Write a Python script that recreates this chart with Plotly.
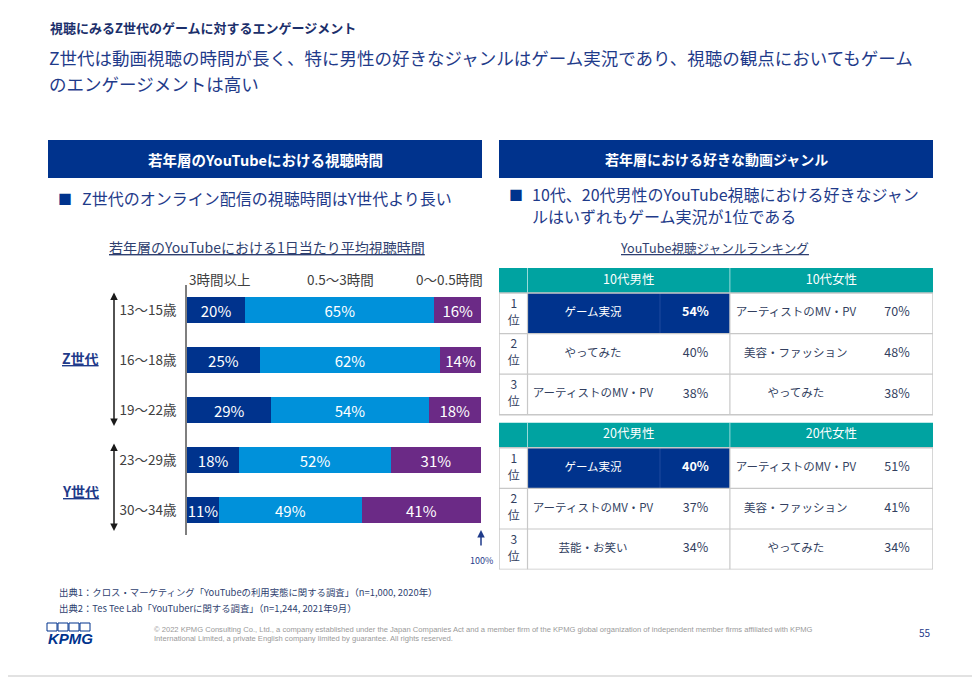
import plotly.graph_objects as go

# the page body adds an 8px margin, so the figure is sized to fill the rest of the window
OFF = 8
W, H = 980 - OFF, 678 - OFF
FONT = "Noto Sans CJK JP"

# ---------------- data ----------------
age_groups = ["13〜15歳", "16〜18歳", "19〜22歳", "23〜29歳", "30〜34歳"]
series_names = ["3時間以上", "0.5〜3時間", "0〜0.5時間"]
share_over_3h = [20, 25, 29, 18, 11]
share_05_to_3h = [65, 62, 54, 52, 49]
share_under_05h = [16, 14, 18, 31, 41]

ranks = ["1", "2", "3"]
teen_groups = ["10代男性", "10代女性"]
teen_male_genres = ["ゲーム実況", "やってみた", "アーティストのMV・PV"]
teen_male_pct = [54, 40, 38]
teen_female_genres = ["アーティストのMV・PV", "美容・ファッション", "やってみた"]
teen_female_pct = [70, 48, 38]

twenties_groups = ["20代男性", "20代女性"]
twenties_male_genres = ["ゲーム実況", "アーティストのMV・PV", "芸能・お笑い"]
twenties_male_pct = [40, 37, 34]
twenties_female_genres = ["アーティストのMV・PV", "美容・ファッション", "やってみた"]
twenties_female_pct = [51, 41, 34]

# ---------------- styles ----------------
NAVY = "#00338D"
BLUE = "#0091DA"
PURPLE = "#6B2A86"
TEAL = "#00A3A1"
TITLE_C = "#1F3B8A"
GRAY_TXT = "#404040"
TBL_TXT = "#333F5F"
LINE_GRAY = "#C8C8C8"


def px(x):
    return (x - OFF) / W


def py(y):
    return 1 - (y - OFF) / H


fig = go.Figure()

# ---------------- stacked bar chart ----------------
bar_colors = [NAVY, BLUE, PURPLE]
for name, vals, col in zip(series_names,
                           [share_over_3h, share_05_to_3h, share_under_05h],
                           bar_colors):
    fig.add_trace(go.Bar(
        y=age_groups, x=vals, name=name, orientation="h",
        marker=dict(color=col, line=dict(width=0)),
        text=[f"{v}%" for v in vals], textposition="inside",
        insidetextanchor="middle",
        textfont=dict(color="white", size=15, family=FONT),
        hoverinfo="skip", xaxis="x", yaxis="y",
    ))

# ---------------- ranking tables ----------------
HEADER_H = 25
ROW_H = 40.6
TABLE_GAP = 8
TABLE_STEP = HEADER_H + 3 * ROW_H + TABLE_GAP
TOTAL_H = 2 * (HEADER_H + 3 * ROW_H) + TABLE_GAP
RANK_LINE_OFF = 8.5

RANK_EDGE = 0.0657
GENRE_SPLIT = 0.371
GROUP_EDGE = 0.532
RANK_X = 0.034
M_GENRE_X = 0.2166
M_PCT_X = 0.4528
F_GENRE_X = 0.684
F_PCT_X = 0.917
M_HDR_X = (RANK_EDGE + GROUP_EDGE) / 2
F_HDR_X = (GROUP_EDGE + 1) / 2
SZ_HDR, SZ_RANK, SZ_GENRE, SZ_PCT = 12.5, 12, 11.5, 12.5

tables = [
    (teen_groups, teen_male_genres, teen_male_pct, teen_female_genres, teen_female_pct),
    (twenties_groups, twenties_male_genres, twenties_male_pct,
     twenties_female_genres, twenties_female_pct),
]

shapes = []
tx, ty, tt, tc, ts = [], [], [], [], []
for t, (groups, mg, mp, fg, fp) in enumerate(tables):
    top = t * TABLE_STEP
    body_top = top + HEADER_H
    body_bot = body_top + 3 * ROW_H
    # header
    shapes.append(dict(type="rect", xref="x2", yref="y2", x0=0, x1=1,
                       y0=top, y1=body_top, fillcolor=TEAL, line=dict(width=0),
                       layer="below"))
    for xe in (RANK_EDGE, GROUP_EDGE):
        shapes.append(dict(type="line", xref="x2", yref="y2", x0=xe, x1=xe,
                           y0=top, y1=body_top, layer="below",
                           line=dict(color="rgba(255,255,255,0.6)", width=1)))
    # highlight (male rank 1)
    shapes.append(dict(type="rect", xref="x2", yref="y2", x0=RANK_EDGE, x1=GROUP_EDGE,
                       y0=body_top, y1=body_top + ROW_H, fillcolor=NAVY,
                       line=dict(width=0), layer="below"))
    shapes.append(dict(type="line", xref="x2", yref="y2", x0=GENRE_SPLIT, x1=GENRE_SPLIT,
                       y0=body_top, y1=body_top + ROW_H, layer="below",
                       line=dict(color="#1E4A9E", width=1)))
    # body grid
    for k in (1, 2):
        yk = body_top + k * ROW_H
        shapes.append(dict(type="line", xref="x2", yref="y2", x0=0, x1=1,
                           y0=yk, y1=yk, layer="below",
                           line=dict(color=LINE_GRAY, width=1.2)))
    for xe in (RANK_EDGE, GROUP_EDGE):
        shapes.append(dict(type="line", xref="x2", yref="y2", x0=xe, x1=xe,
                           y0=body_top, y1=body_bot, layer="below",
                           line=dict(color=LINE_GRAY, width=1.2)))
    shapes.append(dict(type="rect", xref="x2", yref="y2", x0=0, x1=1,
                       y0=body_top, y1=body_bot, layer="below",
                       line=dict(color=LINE_GRAY, width=1.5)))
    # header text
    for gx, g in zip((M_HDR_X, F_HDR_X), groups):
        tx.append(gx); ty.append(top + HEADER_H / 2); tt.append(g)
        tc.append("white"); ts.append(SZ_HDR)
    # body text
    for i in range(3):
        yc = body_top + (i + 0.5) * ROW_H
        hl = (i == 0)
        # rank number above "位"
        tx += [RANK_X, RANK_X]
        ty += [yc - RANK_LINE_OFF, yc + RANK_LINE_OFF]
        tt += [ranks[i], "位"]
        tc += [TBL_TXT, TBL_TXT]
        ts += [SZ_RANK, SZ_RANK]
        tx += [M_GENRE_X, M_PCT_X, F_GENRE_X, F_PCT_X]
        ty += [yc] * 4
        tt += [mg[i], f"<b>{mp[i]}%</b>" if hl else f"{mp[i]}%", fg[i], f"{fp[i]}%"]
        tc += ["white" if hl else TBL_TXT, "white" if hl else TBL_TXT, TBL_TXT, TBL_TXT]
        ts += [SZ_GENRE, SZ_PCT, SZ_GENRE, SZ_PCT]

fig.add_trace(go.Scatter(
    x=tx, y=ty, text=tt, mode="text", xaxis="x2", yaxis="y2",
    textfont=dict(color=tc, size=ts, family=FONT), textposition="middle center",
    hoverinfo="skip", cliponaxis=False, showlegend=False,
))

# ---------------- decorative shapes ----------------
# slide border (right and bottom edges)
shapes.append(dict(type="line", xref="paper", yref="paper", x0=px(978.5), x1=px(978.5),
                   y0=py(676), y1=py(OFF), line=dict(color="#D9D9D9", width=1.5)))
shapes.append(dict(type="line", xref="paper", yref="paper", x0=0, x1=px(978.5),
                   y0=py(676), y1=py(676), line=dict(color="#D9D9D9", width=1.5)))
# section header bars
for x0, x1 in ((48, 482), (499, 933)):
    shapes.append(dict(type="rect", xref="paper", yref="paper", x0=px(x0), x1=px(x1),
                       y0=py(178), y1=py(140), fillcolor=NAVY, line=dict(width=0),
                       layer="below"))
# KPMG logo boxes
for bx in (47, 58, 69, 80):
    shapes.append(dict(type="rect", xref="paper", yref="paper", x0=px(bx), x1=px(bx + 10),
                       y0=py(631), y1=py(623), line=dict(color=NAVY, width=1)))

# ---------------- annotations ----------------
ann = []


def text(x, y, s, size, color, xanchor="left", bold=False, family=FONT, yanchor="middle"):
    ann.append(dict(x=px(x), y=py(y), xref="paper", yref="paper", text=f"<b>{s}</b>" if bold else s,
                    showarrow=False, xanchor=xanchor, yanchor=yanchor,
                    font=dict(size=size, color=color, family=family)))


text(48, 27, "視聴にみるZ世代のゲームに対するエンゲージメント", 13, "#1B2F6B", bold=True)
text(47, 58, "Z世代は動画視聴の時間が長く、特に男性の好きなジャンルはゲーム実況であり、視聴の観点においてもゲーム",
     17.5, TITLE_C)
text(47, 83, "のエンゲージメントは高い", 17.5, TITLE_C)

text(265, 159, "若年層のYouTubeにおける視聴時間", 14.5, "white", xanchor="center", bold=True)
text(716, 159, "若年層における好きな動画ジャンル", 14, "white", xanchor="center", bold=True)

text(65, 198, "■", 14, NAVY, xanchor="center")
text(80, 198, "Z世代のオンライン配信の視聴時間はY世代より長い", 16, TITLE_C)
text(516, 194, "■", 14, NAVY, xanchor="center")
text(530, 194, "10代、20代男性のYouTube視聴における好きなジャン", 16, TITLE_C)
text(530, 216, "ルはいずれもゲーム実況が1位である", 16, TITLE_C)

text(267, 247, "<u>若年層のYouTubeにおける1日当たり平均視聴時間</u>", 14, "#2F3F6F", xanchor="center")
text(714, 247, "<u>YouTube視聴ジャンルランキング</u>", 12.6, "#2F3F6F", xanchor="center")

text(220, 279, series_names[0], 13.5, GRAY_TXT, xanchor="center")
text(340, 279, series_names[1], 13.5, GRAY_TXT, xanchor="center")
text(449, 279, series_names[2], 13.5, GRAY_TXT, xanchor="center")

text(80, 358, "<u>Z世代</u>", 14, TITLE_C, xanchor="center", bold=True)
text(80, 491, "<u>Y世代</u>", 14, TITLE_C, xanchor="center", bold=True)

# generation arrows
for y_top, y_bot in ((291, 426), (442, 531)):
    ann.append(dict(x=px(114), y=py(y_bot), xref="paper", yref="paper", text="",
                    showarrow=True, ax=0, ay=-(y_bot - y_top), axref="pixel", ayref="pixel",
                    arrowhead=2, arrowside="end+start", arrowsize=1, arrowwidth=1.5,
                    arrowcolor="#1A1A1A", standoff=0, startstandoff=0))
# 100% marker
ann.append(dict(x=px(481), y=py(530), xref="paper", yref="paper", text="",
                showarrow=True, ax=0, ay=17, arrowhead=2, arrowsize=1, arrowwidth=1.5,
                arrowcolor=TITLE_C, standoff=0))
text(481, 560, "100%", 9, TITLE_C, xanchor="center")

# sources
text(57, 592, "出典1：クロス・マーケティング「YouTubeの利用実態に関する調査」（n=1,000, 2020年）", 9.4, "#2F3F6F")
text(57, 608, "出典2：Tes Tee Lab「YouTuberに関する調査」（n=1,244, 2021年9月）", 9.4, "#2F3F6F")

# footer
text(46, 638, "<i>KPMG</i>", 15, NAVY, bold=True, family="Liberation Sans")
text(152, 629, "© 2022 KPMG Consulting Co., Ltd., a company established under the Japan Companies Act and a member firm of the KPMG global organization of independent member firms affiliated with KPMG",
     7.6, "#9A9A9A", family="Liberation Sans")
text(152, 638, "International Limited, a private English company limited by guarantee. All rights reserved.",
     7.6, "#9A9A9A", family="Liberation Sans")
text(925, 632, "55", 10, TITLE_C, xanchor="center")

# ---------------- layout ----------------
fig.update_layout(
    width=W, height=H, margin=dict(l=0, r=0, t=0, b=0),
    paper_bgcolor="white", plot_bgcolor="rgba(0,0,0,0)",
    font=dict(family=FONT, color=GRAY_TXT),
    barmode="stack", bargap=0.48, showlegend=False,
    uniformtext=dict(minsize=15, mode="show"),
    xaxis=dict(domain=[px(187), px(481)], range=[0, 101], visible=False, fixedrange=True),
    yaxis=dict(domain=[py(535), py(285)], type="category", autorange="reversed",
               showline=True, linecolor="#7F7F7F", linewidth=1.5, showgrid=False,
               zeroline=False, ticks="", ticklabelstandoff=6,
               tickfont=dict(size=13.5, color=GRAY_TXT, family=FONT), fixedrange=True),
    xaxis2=dict(domain=[px(499), px(933)], range=[0, 1], visible=False, anchor="y2",
                fixedrange=True),
    yaxis2=dict(domain=[py(268 + TOTAL_H), py(268)], range=[TOTAL_H, 0], visible=False,
                anchor="x2", fixedrange=True),
    shapes=shapes, annotations=ann,
)

fig.write_html("out.html")
